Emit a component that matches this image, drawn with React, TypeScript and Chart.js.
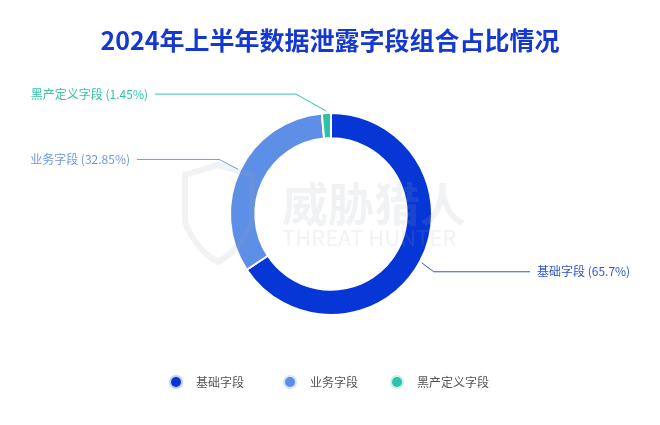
import React, { useEffect, useRef } from "react";
import { Chart, registerables } from "chart.js";

Chart.register(...registerables);

const titleText = "2024年上半年数据泄露字段组合占比情况";
const categories = ["基础字段", "业务字段", "黑产定义字段"];
const values = [65.7, 32.85, 1.45];
const colors = ["#0637d6", "#5d8fe6", "#2fc2aa"];
const labelColors = ["#2f54d4", "#6c98e6", "#35c2a8"];

const FONT = '"Noto Sans CJK SC", "Noto Sans", sans-serif';

const decorPlugin = {
  id: "decor",
  afterDraw(chart: any) {
    const ctx = chart.ctx;
    const meta = chart.getDatasetMeta(0);
    ctx.save();
    // title
    ctx.fillStyle = "#1539d0";
    ctx.font = `bold 25px ${FONT}`;
    ctx.textAlign = "center";
    ctx.textBaseline = "middle";
    ctx.fillText(titleText, chart.width / 2, 40);

    // leader lines + labels
    const ds = chart.data.datasets[0];
    const total = (ds.data as number[]).reduce((a: number, b: number) => a + b, 0);
    ctx.font = `12px ${FONT}`;
    ctx.lineWidth = 1;
    meta.data.forEach((arc: any, i: number) => {
      const { x, y, outerRadius, startAngle, endAngle } = arc.getProps(
        ["x", "y", "outerRadius", "startAngle", "endAngle"],
        true
      );
      const mid = (startAngle + endAngle) / 2;
      const r1 = outerRadius + 2;
      const px = x + Math.cos(mid) * r1;
      const py = y + Math.sin(mid) * r1;
      const right = Math.cos(mid) >= 0;
      let bx: number, by: number;
      if (i === 2) {
        bx = x - 35;
        by = py - 17;
      } else {
        bx = px + (right ? 12 : -19);
        by = py + (right ? 9 : -10);
      }
      const lineEnd = right ? 530 : i === 2 ? 155 : 137;
      ctx.strokeStyle = labelColors[i];
      ctx.beginPath();
      ctx.moveTo(px, py);
      ctx.lineTo(bx, by);
      ctx.lineTo(lineEnd, by);
      ctx.stroke();
      const pct = +((ds.data[i] / total) * 100).toFixed(2);
      const txt = `${chart.data.labels[i]} (${pct}%)`;
      ctx.fillStyle = labelColors[i];
      ctx.textBaseline = "middle";
      if (right) {
        ctx.textAlign = "left";
        ctx.fillText(txt, lineEnd + 7, by);
      } else {
        ctx.textAlign = "right";
        ctx.fillText(txt, lineEnd - 7, by);
      }
    });

    // legend
    const legendX = [176, 290, 397];
    const ly = 382;
    chart.data.labels.forEach((lab: string, i: number) => {
      const cx = legendX[i];
      ctx.globalAlpha = 0.25;
      ctx.fillStyle = colors[i];
      ctx.beginPath();
      ctx.arc(cx, ly, 7, 0, Math.PI * 2);
      ctx.fill();
      ctx.globalAlpha = 1;
      ctx.beginPath();
      ctx.arc(cx, ly, 5, 0, Math.PI * 2);
      ctx.fill();
      ctx.fillStyle = "#555";
      ctx.font = `12px ${FONT}`;
      ctx.textAlign = "left";
      ctx.textBaseline = "middle";
      ctx.fillText(lab, cx + 20, ly);
    });

    // watermark
    ctx.globalAlpha = 0.14;
    ctx.fillStyle = "#9aa0a8";
    ctx.font = `bold 46px ${FONT}`;
    ctx.textAlign = "left";
    ctx.textBaseline = "middle";
    ctx.fillText("威胁猎人", 282, 204);
    ctx.font = `22px ${FONT}`;
    ctx.fillText("THREAT HUNTER", 282, 238);
    ctx.strokeStyle = "#9aa0a8";
    ctx.lineWidth = 6;
    ctx.beginPath();
    ctx.moveTo(185, 175);
    ctx.lineTo(218, 165);
    ctx.lineTo(252, 175);
    ctx.lineTo(252, 222);
    ctx.quadraticCurveTo(240, 250, 218, 262);
    ctx.quadraticCurveTo(196, 250, 185, 222);
    ctx.closePath();
    ctx.stroke();
    ctx.restore();
  },
};

export default function App() {
  const ref = useRef<HTMLCanvasElement | null>(null);
  useEffect(() => {
    document.body.style.margin = "0";
    const chart = new Chart(ref.current as HTMLCanvasElement, {
      type: "doughnut",
      data: {
        labels: categories,
        datasets: [
          {
            data: values,
            backgroundColor: colors,
            borderColor: "#ffffff",
            borderWidth: 2,
          },
        ],
      },
      options: {
        animation: false,
        responsive: false,
        cutout: "75%",
        layout: { padding: { top: 112, bottom: 109, left: 2, right: 0 } },
        plugins: {
          legend: { display: false },
          tooltip: { enabled: false },
          title: { display: false },
        },
      },
      plugins: [decorPlugin],
    });
    return () => chart.destroy();
  }, []);
  return (
    <div style={{ width: 660, height: 425, background: "#fff" }}>
      <canvas ref={ref} width={660} height={425} />
    </div>
  );
}
